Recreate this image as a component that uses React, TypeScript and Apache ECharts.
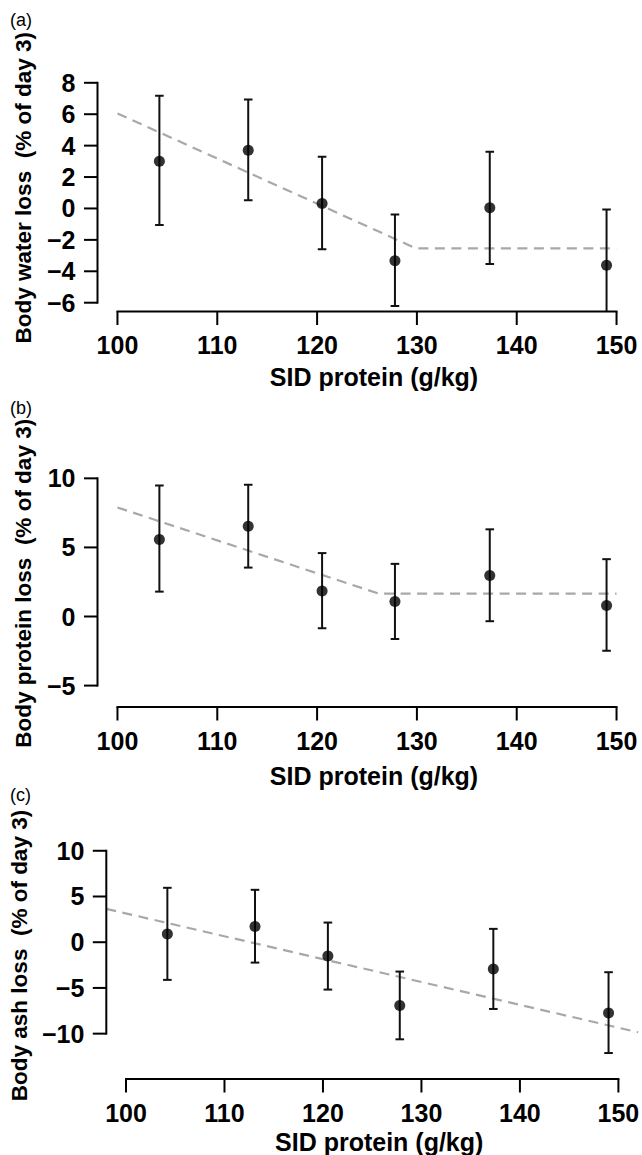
import React, { useEffect, useRef } from "react";
import * as echarts from "echarts";

// ---------- data ----------
const protein = [104.2, 113.1, 120.5, 127.8, 137.3, 149.0];

const waterMean = [3.0, 3.71, 0.32, -3.33, 0.05, -3.62];
const waterLow = [-1.06, 0.53, -2.59, -6.21, -3.54, -7.2];
const waterHigh = [7.17, 6.94, 3.29, -0.38, 3.61, -0.06];
const waterFitX = [100, 129.9, 150];
const waterFitY = [6.05, -2.54, -2.54];

const proteinMean = [5.58, 6.53, 1.84, 1.09, 2.96, 0.8];
const proteinLow = [1.8, 3.54, -0.85, -1.63, -0.34, -2.48];
const proteinHigh = [9.49, 9.54, 4.59, 3.81, 6.31, 4.15];
const proteinFitX = [100, 126.2, 150];
const proteinFitY = [7.89, 1.65, 1.65];

const ashMean = [0.91, 1.72, -1.5, -6.93, -2.92, -7.74];
const ashLow = [-4.12, -2.23, -5.18, -10.62, -7.3, -12.12];
const ashHigh = [5.95, 5.73, 2.15, -3.21, 1.46, -3.28];
const ashFitX = [98, 152];
const ashFitY = [3.65, -9.85];

const xTicks = [100, 110, 120, 130, 140, 150];
const waterTicks = [-6, -4, -2, 0, 2, 4, 6, 8];
const proteinTicks = [-5, 0, 5, 10];
const ashTicks = [-10, -5, 0, 5, 10];

const xTitle = "SID protein (g/kg)";
const yTitles = [
  "Body water loss  (% of day 3)",
  "Body protein loss  (% of day 3)",
  "Body ash loss  (% of day 3)",
];
const panelLabels = ["(a)", "(b)", "(c)"];

const FONT = "'Liberation Sans', Arial, Helvetica, sans-serif";

export default function App() {
  const ref = useRef<HTMLDivElement>(null);

  useEffect(() => {
    if (!ref.current) return;
    const chart = echarts.init(ref.current, null, { renderer: "svg" });

    const panels = [
      {
        mean: waterMean, low: waterLow, high: waterHigh, fx: waterFitX, fy: waterFitY,
        ticks: waterTicks, ymin: -6.56, ymax: 8.56, top: 74, left: 97.5, nameGap: 53,
        labelTop: 11,
      },
      {
        mean: proteinMean, low: proteinLow, high: proteinHigh, fx: proteinFitX, fy: proteinFitY,
        ticks: proteinTicks, ymin: -6.55, ymax: 10.64, top: 469.5, left: 97.5, nameGap: 56,
        labelTop: 399,
      },
      {
        mean: ashMean, low: ashLow, high: ashHigh, fx: ashFitX, fy: ashFitY,
        ticks: ashTicks, ymin: -14.96, ymax: 10.96, top: 842, left: 99.5, nameGap: 50,
        labelTop: 786,
      },
    ];

    const xmin = 98;
    const xmax = 152;

    const grids: any[] = [];
    const xAxes: any[] = [];
    const yAxes: any[] = [];
    const series: any[] = [];
    const graphics: any[] = [];

    const fmt = (v: number) => String(v).replace("-", "\u2212");

    panels.forEach((p, i) => {
      grids.push({ left: p.left, top: p.top, width: 539, height: 237.5, containLabel: false });
      xAxes.push({
        type: "value", gridIndex: i, min: xmin, max: xmax,
        axisLine: { show: false }, axisTick: { show: false }, splitLine: { show: false },
        axisLabel: {
          customValues: xTicks, formatter: fmt, margin: 21, color: "#000",
          fontSize: 25, fontWeight: "bold", fontFamily: FONT,
        },
        name: xTitle, nameLocation: "middle", nameGap: p.nameGap,
        nameTextStyle: {
          fontSize: 25, fontWeight: "bold", fontFamily: FONT, color: "#000",
          padding: [0, 0, 0, 14],
        },
      });
      yAxes.push({
        type: "value", gridIndex: i, min: p.ymin, max: p.ymax,
        axisLine: { show: false }, axisTick: { show: false }, splitLine: { show: false },
        axisLabel: {
          customValues: p.ticks, formatter: fmt, margin: 22, color: "#000",
          fontSize: 25, fontWeight: "bold", fontFamily: FONT,
        },
        name: yTitles[i], nameLocation: "middle", nameGap: 63,
        nameTextStyle: {
          fontSize: 22.5, fontWeight: "bold", fontFamily: FONT, color: "#000",
          padding: [0, 0, 0, 10],
        },
      });

      // R-style axes (segments spanning the tick range only)
      const yT = p.ticks;
      const ymin = p.ymin;
      series.push({
        type: "custom", xAxisIndex: i, yAxisIndex: i, clip: false, silent: true, z: 5,
        data: [[xTicks[0], yT[0]]],
        renderItem: (_params: any, api: any) => {
          const children: any[] = [];
          const st = { stroke: "#000", lineWidth: 2, fill: null };
          const a = api.coord([xTicks[0], ymin]);
          const b = api.coord([xTicks[xTicks.length - 1], ymin]);
          children.push({ type: "line", shape: { x1: a[0] - 1, y1: a[1], x2: b[0] + 1, y2: b[1] }, style: st });
          xTicks.forEach((t) => {
            const c = api.coord([t, ymin]);
            children.push({ type: "line", shape: { x1: c[0], y1: c[1], x2: c[0], y2: c[1] + 13.5 }, style: st });
          });
          const c0 = api.coord([xmin, yT[0]]);
          const c1 = api.coord([xmin, yT[yT.length - 1]]);
          children.push({ type: "line", shape: { x1: c0[0], y1: c0[1] + 1, x2: c1[0], y2: c1[1] - 1 }, style: st });
          yT.forEach((t) => {
            const c = api.coord([xmin, t]);
            children.push({ type: "line", shape: { x1: c[0] - 13.5, y1: c[1], x2: c[0], y2: c[1] }, style: st });
          });
          return { type: "group", children };
        },
      });

      // fitted broken-line / regression (dashed grey)
      series.push({
        type: "line", xAxisIndex: i, yAxisIndex: i, z: 2, silent: true,
        data: p.fx.map((x, k) => [x, p.fy[k]]),
        showSymbol: false, symbol: "none",
        lineStyle: { color: "#a8a8a8", width: 2.2, type: [10, 6.5] },
      });

      // error bars
      series.push({
        type: "custom", xAxisIndex: i, yAxisIndex: i, clip: true, silent: true, z: 3,
        data: protein.map((x, k) => [x, p.low[k], p.high[k]]),
        renderItem: (_params: any, api: any) => {
          const lo = api.coord([api.value(0), api.value(1)]);
          const hi = api.coord([api.value(0), api.value(2)]);
          const w = 4.3;
          const st = { stroke: "#111", lineWidth: 2, fill: null };
          return {
            type: "group",
            children: [
              { type: "line", shape: { x1: lo[0], y1: lo[1], x2: hi[0], y2: hi[1] }, style: st },
              { type: "line", shape: { x1: lo[0] - w, y1: lo[1], x2: lo[0] + w, y2: lo[1] }, style: st },
              { type: "line", shape: { x1: hi[0] - w, y1: hi[1], x2: hi[0] + w, y2: hi[1] }, style: st },
            ],
          };
        },
      });

      // means
      series.push({
        type: "scatter", xAxisIndex: i, yAxisIndex: i, z: 4, silent: true,
        data: protein.map((x, k) => [x, p.mean[k]]),
        symbol: "circle", symbolSize: 11,
        itemStyle: { color: "#000" },
      });

      graphics.push({
        type: "text", left: 10, top: p.labelTop,
        style: { text: panelLabels[i], fontSize: 18, fontFamily: FONT, fill: "#000" },
      });
    });

    chart.setOption({
      animation: false,
      backgroundColor: "#fff",
      grid: grids,
      xAxis: xAxes,
      yAxis: yAxes,
      series,
      graphic: graphics,
    });

    return () => chart.dispose();
  }, []);

  return (
    <div
      ref={ref}
      style={{ position: "fixed", left: 0, top: 0, width: 642, height: 1155, background: "#fff" }}
    />
  );
}
